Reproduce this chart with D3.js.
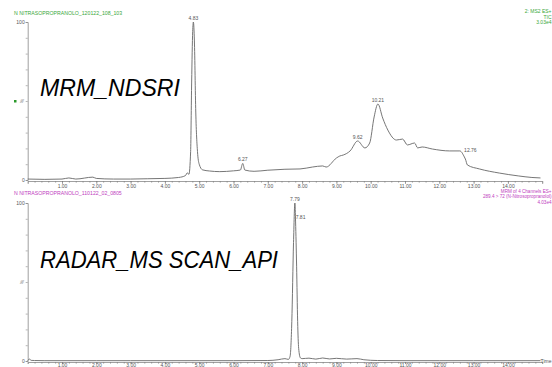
<!DOCTYPE html>
<html><head><meta charset="utf-8">
<script src="https://cdn.jsdelivr.net/npm/d3@7"></script>
<style>
html,body{margin:0;padding:0;background:#fff;}
svg{display:block;}
text{font-family:"Liberation Sans",Arial,sans-serif;}
</style></head>
<body>
<svg id="c" width="552" height="367"></svg>
<script>
// ---- data ----
const xTickLabels = ["1.00","2.00","3.00","4.00","5.00","6.00","7.00","8.00","9.00","10.00","11.00","12.00","13.00","14.00"];
const xTickValues = [1,2,3,4,5,6,7,8,9,10,11,12,13,14];

const topTimes  = [0,0.5,1.0,1.2,1.4,1.9,2.0,2.5,3.0,3.5,4.0,4.4,4.6,4.65,4.7,4.75,4.78,4.81,4.83,4.86,4.9,4.95,5.0,5.1,5.3,5.6,6.0,6.2,6.27,6.33,6.6,7.0,7.5,7.94,8.3,8.6,8.7,9.0,9.1,9.2,9.4,9.62,9.83,9.97,10.1,10.21,10.35,10.5,10.75,10.93,11.07,11.28,11.37,11.5,11.8,12.3,12.6,12.73,12.76,12.82,13.17,13.75,14.3,14.7,14.95];
const topValues = [0.6,0.4,0.6,1.3,0.6,1.8,1.0,0.6,0.6,0.8,1.0,1.6,2.8,4.5,3.6,18,62,94,100,88,43,18,10,6.4,5.7,5.3,5.8,6.3,10.5,6.3,5.5,6.2,6.8,7.0,8.2,8.9,8.2,13.9,15.2,15.8,18.4,24.7,20.3,23.4,39.9,48.1,39.2,31.6,25.3,25.9,22.2,23.4,20.3,20.9,19.6,18.4,18.4,14.6,13.3,9.5,7.0,4.4,2.6,1.6,1.3];
const topPeakTimes = [4.83,6.27,9.62,10.21,12.76];
const topPeakLabels = ["4.83","6.27","9.62","10.21","12.76"];

const botTimes  = [0,0.05,0.1,0.2,0.5,1,2,3,4,5,6,7,7.3,7.5,7.6,7.65,7.7,7.75,7.79,7.81,7.84,7.87,7.9,7.95,8.0,8.2,8.4,8.6,8.8,9.0,9.3,9.6,9.8,10.2,11,12,13,14,14.95];
const botValues = [0.3,1.2,0.4,0.3,0.2,0.2,0.2,0.2,0.2,0.2,0.2,0.3,0.8,1.5,1.0,3,25,75,100,88,60,25,8,2,1.5,1.8,1.2,1.9,1.3,1.7,1.2,1.5,0.8,0.3,0.2,0.2,0.2,0.2,0.2];
const botPeakTimes = [7.79,7.81];
const botPeakLabels = ["7.79","7.81"];

const yTickValues = [0,10,20,30,40,50,60,70,80,90,100];

// ---- layout ----
const svg = d3.select("#c");
const x = d3.scaleLinear().domain([0,15]).range([27.7,542.2]);
const minorTicks = d3.range(0,15.01,0.2);

function panel(opt){
  const y = d3.scaleLinear().domain([0,100]).range([opt.y0, opt.y100]);
  const g = svg.append("g");
  // y axis
  const ya = d3.axisLeft(y).tickValues(yTickValues).tickSize(2).tickFormat("");
  const yg = g.append("g").attr("transform",`translate(${x(0)},0)`).call(ya);
  yg.select(".domain").attr("stroke","#888").attr("stroke-width",0.8);
  yg.selectAll(".tick line").attr("stroke","#888").attr("stroke-width",0.6);
  g.append("text").attr("x",x(0)-3).attr("y",opt.y100+2).attr("text-anchor","end")
    .attr("font-size",5).attr("fill","#555").text("100");
  g.append("text").attr("x",x(0)-3).attr("y",opt.y0+2).attr("text-anchor","end")
    .attr("font-size",5).attr("fill","#555").text("0");
  g.append("text").attr("transform",`translate(${x(0)-4},${(opt.y0+opt.y100)/2}) rotate(-90)`)
    .attr("text-anchor","middle").attr("font-size",5).attr("fill","#777").text("%");
  // x axis
  const xa = d3.axisBottom(x).tickValues(xTickValues).tickSize(opt.majorTick)
    .tickFormat((d,i)=>xTickLabels[i]);
  const xg = g.append("g").attr("transform",`translate(0,${opt.y0+1})`).call(xa);
  xg.select(".domain").attr("stroke","#888").attr("stroke-width",0.8);
  xg.selectAll(".tick line").attr("stroke","#777").attr("stroke-width",0.6);
  xg.selectAll(".tick text").attr("font-size",5).attr("fill","#555")
    .attr("y",opt.labelY).attr("dy",0)
    .attr("font-family","Liberation Sans, Arial, sans-serif");
  const xm = d3.axisBottom(x).tickValues(minorTicks).tickSize(1.8).tickFormat("");
  const xmg = g.append("g").attr("transform",`translate(0,${opt.y0+1})`).call(xm);
  xmg.select(".domain").remove();
  xmg.selectAll(".tick line").attr("stroke","#777").attr("stroke-width",0.5);
  // trace
  const line = d3.line().x((d,i)=>x(opt.times[i])).y(d=>y(d)).curve(d3.curveMonotoneX);
  g.append("path").datum(opt.values).attr("d",line).attr("fill","none")
    .attr("stroke","#666").attr("stroke-width",0.9);
  // peak labels
  const interp = t => {
    const i = d3.bisectLeft(opt.times,t);
    if (opt.times[i]===t) return opt.values[i];
    const t0=opt.times[i-1],t1=opt.times[i],v0=opt.values[i-1],v1=opt.values[i];
    return v0+(v1-v0)*(t-t0)/(t1-t0);
  };
  opt.peakTimes.forEach((t,i)=>{
    const dx = opt.peakDx ? opt.peakDx[i] : 0;
    const dy = opt.peakDy ? opt.peakDy[i] : 0;
    g.append("text").attr("x",x(t)+dx).attr("y",y(interp(t))-2+dy)
      .attr("text-anchor","middle").attr("font-size",5).attr("fill","#555").text(opt.peakLabels[i]);
  });
  // title
  g.append("text").attr("x",14).attr("y",opt.titleY).attr("font-size",5.2)
    .attr("fill",opt.color).text(opt.title);
  opt.rightTexts.forEach((t,i)=>{
    g.append("text").attr("x",551.5).attr("y",opt.rightY + i*5.6).attr("text-anchor","end")
      .attr("font-size",opt.rightSize).attr("fill",opt.color).text(t);
  });
  return {g,y};
}

panel({y0:180, y100:22, times:topTimes, values:topValues, majorTick:3, labelY:6.5,
  peakTimes:topPeakTimes, peakLabels:topPeakLabels, peakDx:[0,0,0,0,5], peakDy:[0,0,0,0,-5],
  title:"N NITRASOPROPRANOLO_120122_108_103", titleY:15, color:"#3aa83a",
  rightTexts:["2: MS2 ES+","TIC","3.03e4"], rightY:13, rightSize:5});

panel({y0:361, y100:203, times:botTimes, values:botValues, majorTick:2, labelY:4.8,
  peakTimes:botPeakTimes, peakLabels:botPeakLabels, peakDx:[0,5], peakDy:[0,-1],
  title:"N NITRASOPROPRANOLO_110122_02_0805", titleY:195, color:"#c040c0",
  rightTexts:["MRM of 4 Channels ES+","289.4 > 72 (N-Nitrosopropranolol)","4.03e4"], rightY:192.5, rightSize:4.6});

svg.append("text").attr("x",551.5).attr("y",363).attr("text-anchor","end").attr("font-size",5)
  .attr("fill","#555").text("Time");

// green marker
svg.append("rect").attr("x",14).attr("y",100).attr("width",2.5).attr("height",2.5).attr("fill","#2a9a2a");

// big labels
svg.append("text").attr("x",40).attr("y",96).attr("font-size",24).attr("font-style","italic")
  .attr("font-family","Lato, Open Sans, sans-serif").attr("fill","#000")
  .attr("textLength",140).attr("lengthAdjust","spacingAndGlyphs").text("MRM_NDSRI");
svg.append("text").attr("x",40).attr("y",268).attr("font-size",24).attr("font-style","italic")
  .attr("font-family","Lato, Open Sans, sans-serif").attr("fill","#000")
  .attr("textLength",238).attr("lengthAdjust","spacingAndGlyphs").text("RADAR_MS SCAN_API");
</script>
</body></html>
